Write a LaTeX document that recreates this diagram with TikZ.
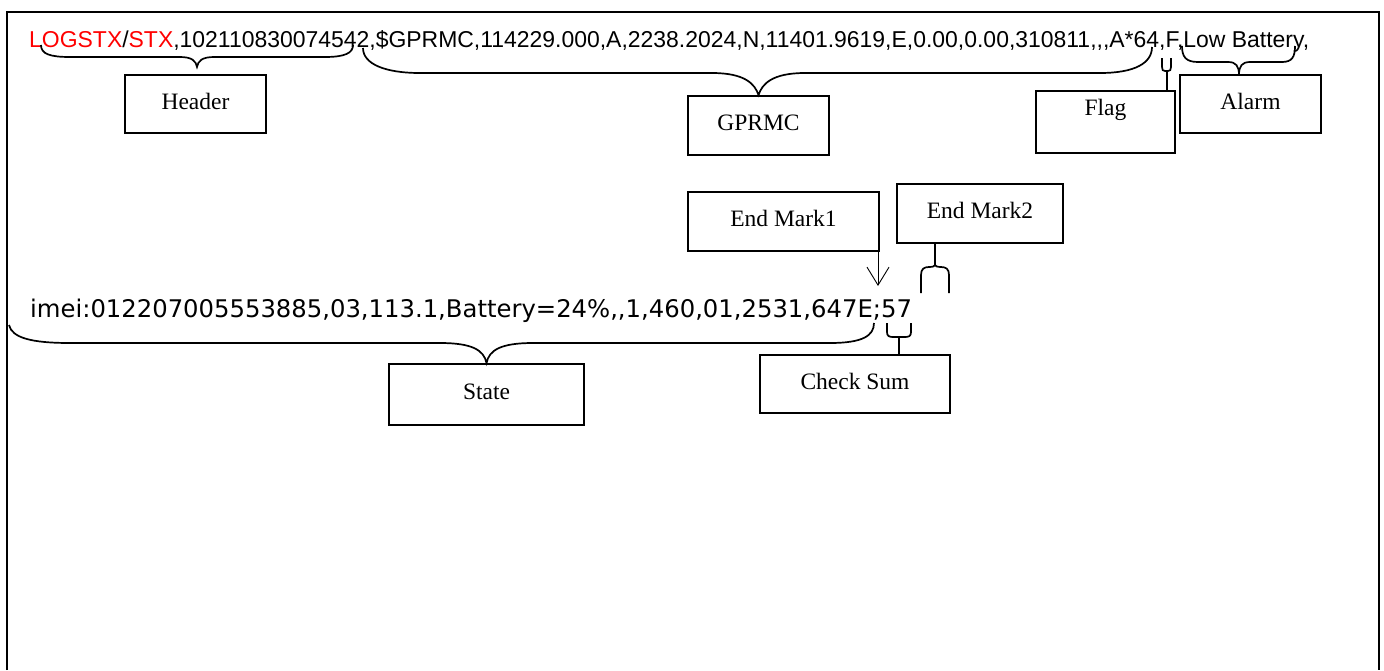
\documentclass[tikz,border=0pt]{standalone}
\usepackage{fontspec}
\setmainfont{Liberation Serif}
\newfontfamily\msgfont[Ligatures=TeXOff]{Liberation Sans}
\newfontfamily\imeifont[Ligatures=TeXOff]{DejaVu Sans}
\usetikzlibrary{positioning,arrows.meta}

\tikzset{
  tbox/.style={draw, line width=1.8pt, inner sep=0pt, text height=16pt, text depth=6pt,
    font=\fontsize{23.5}{28}\selectfont},
  brace/.style={line width=1.7pt},
}

\begin{document}
\begin{tikzpicture}[x=1pt,y=-1pt]
      \useasboundingbox (0,0) rectangle (1384,670);
      \draw[line width=2pt] (7,670) -- (7,12) -- (1379,12) -- (1379,670);
      \node[anchor=base west, inner sep=0pt, font=\msgfont\fontsize{22.95}{27}\selectfont] (msg) at (29,47)
        {\textcolor{red}{LOGSTX}/\textcolor{red}{STX},102110830074542,\$GPRMC,114229.000,A,2238.2024,N,11401.9619,E,0.00,0.00,310811,,,A*64,F,Low Battery,};
      \node[anchor=base west, inner sep=0pt, font=\imeifont\fontsize{24.3}{29}\selectfont] (imei) at (30,317)
        {imei:012207005553885,03,113.1,Battery=24\%,,1,460,01,2531,647E;57};
      \node[tbox, minimum width=141pt, minimum height=58pt] (header) at (195.5,104) {Header};
      \node[tbox, minimum width=141pt, minimum height=59pt] (gprmc) at (758.5,125.5) {GPRMC};
      \node[tbox, minimum width=139pt, minimum height=62pt, text depth=30pt] (flag) at (1105.5,122) {Flag};
      \node[tbox, minimum width=141pt, minimum height=58pt] (alarm) at (1250.5,104) {Alarm};
      \node[tbox, minimum width=191pt, minimum height=59pt] (endmark1) at (783.5,221.5) {End Mark1};
      \node[tbox, minimum width=166pt, minimum height=59pt] (endmark2) at (980,213.5) {End Mark2};
      \node[tbox, minimum width=195pt, minimum height=61pt] (state) at (486.5,394.5) {State};
      \node[tbox, minimum width=190pt, minimum height=58pt] (checksum) at (855,384) {Check Sum};
      \draw[brace] (41,45) .. controls (41,54) and (50,57) .. (70,57) -- (180,57) .. controls (192,57) and (196,61) .. (197,67)
        .. controls (198,61) and (202,57) .. (214,57) -- (325,57) .. controls (345,57) and (353,53) .. (353,45);
      \draw[brace] (363,48) .. controls (363,64) and (385,73) .. (420,73) -- (712,73) .. controls (745,73) and (755,84) .. (gprmc.north)
        .. controls (762,84) and (772,73) .. (805,73) -- (1100,73) .. controls (1135,73) and (1152,63) .. (1152,47);
      \draw[brace] (1162,58) -- (1162,67) .. controls (1162,70) and (1163,71) .. (1165,71) -- (1168,71)
        .. controls (1170,71) and (1171,70) .. (1171,67) -- (1171,58);
      \coordinate (flagtip) at (1167,71);
      \draw[brace] (flagtip) -- (flagtip |- flag.north);
      \draw[brace] (1182,46) .. controls (1182,57) and (1186,62) .. (1198,62) -- (1228,62) .. controls (1236,62) and (1239,66) .. (1239,75)
        .. controls (1239,66) and (1242,62) .. (1250,62) -- (1282,62) .. controls (1292,62) and (1295,57) .. (1295,46);
      \coordinate (semi) at (878,286);
      \draw[line width=0.9pt, -{Straight Barb[length=18pt,width=22pt]}] (semi |- endmark1.south) -- (semi);
      \coordinate (em2tip) at (935,265);
      \draw[line width=2.2pt] (em2tip |- endmark2.south) -- (em2tip);
      \draw[brace] (921,293) -- (921,275) .. controls (921,269) and (924,267) .. (929,267) .. controls (933,267) and (935,266) .. (em2tip)
        .. controls (935,266) and (937,267) .. (941,267) .. controls (946,267) and (949,269) .. (949,275) -- (949,293);
      \draw[brace] (887,323) -- (887,332) .. controls (887,336) and (889,337) .. (893,337) -- (905,337)
        .. controls (909,337) and (911,336) .. (911,332) -- (911,323);
      \coordinate (cstip) at (899,337);
      \draw[brace] (cstip) -- (cstip |- checksum.north);
      \draw[brace] (9,325) .. controls (12,338) and (32,343) .. (70,343) -- (440,343) .. controls (472,343) and (484,350) .. (state.north)
        .. controls (489,350) and (501,343) .. (533,343) -- (830,343) .. controls (862,343) and (874,336) .. (874,323);
\end{tikzpicture}
\end{document}
